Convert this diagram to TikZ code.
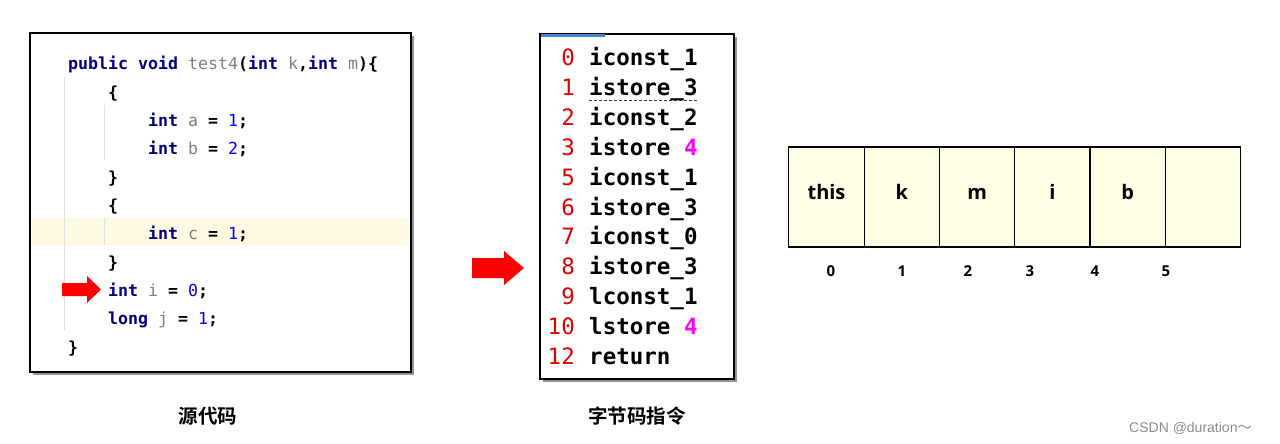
\documentclass[tikz,border=0pt]{standalone}
\usepackage{fontspec}
\setmainfont{Open Sans}
\newfontfamily\codefont{DejaVu Sans Mono}
\newfontfamily\cjk{Noto Sans CJK SC}[BoldFont={Noto Sans CJK SC Bold}]
\newfontfamily\wmfont{Liberation Sans}
\usetikzlibrary{shadows}
\definecolor{kwblue}{HTML}{000080}
\definecolor{vargray}{HTML}{808080}
\definecolor{numblue}{HTML}{0000FF}
\definecolor{offred}{HTML}{E00000}
\definecolor{regpink}{HTML}{FF00FF}
\definecolor{lineyellow}{HTML}{FDF9E3}
\definecolor{cellyellow}{HTML}{FFFFE6}
\definecolor{barblue}{HTML}{4A86C8}
\newcommand{\kw}[1]{\textcolor{kwblue}{#1}}
\newcommand{\vr}[1]{\textcolor{vargray}{\mdseries #1}}
\newcommand{\nm}[1]{\textcolor{numblue}{\mdseries #1}}
\newcommand{\rg}[1]{\textcolor{regpink}{#1}}
\tikzset{
	x=1pt, y=-1pt,
	box/.style={draw=black, line width=2pt, fill=white,
		drop shadow={shadow xshift=3pt, shadow yshift=-3pt, fill=black!70, opacity=0.6}},
	guide/.style={draw=black!12, line width=1pt},
	code/.style={anchor=base west, inner sep=0pt, font=\codefont\bfseries\fontsize{16.6}{18}\selectfont},
	offs/.style={anchor=base east, inner sep=0pt, text=offred, font=\codefont\fontsize{22.5}{24}\selectfont},
	instr/.style={anchor=base west, inner sep=0pt, font=\codefont\bfseries\fontsize{22.5}{24}\selectfont},
	cell/.style={draw=black, line width=1.2pt, fill=cellyellow, minimum width=75.3pt,
		minimum height=100pt, inner sep=0pt, text height=16pt, text depth=12pt, font=\bfseries\fontsize{20}{22}\selectfont},
	idx/.style={inner sep=0pt, font=\bfseries\fontsize{15}{17}\selectfont},
	caption/.style={inner sep=0pt, font=\cjk\bfseries\fontsize{19.5}{21}\selectfont},
	arrowred/.style={fill=red},
}
\begin{document}
\begin{tikzpicture}
\useasboundingbox (0,0) rectangle (1280,444);

% source code
\draw[box] (30,33) rectangle (411,372);
\fill[lineyellow] (32,218) rectangle (409,245);
\draw[guide] (64,77) -- (64,330);
\draw[guide] (104,105) -- (104,160);
\draw[guide] (104,218) -- (104,245);

\node[code] (l0)  at (68,70)    {\kw{public void} \vr{test4}(\kw{int} \vr{k},\kw{int} \vr{m})\{};
\node[code] (l1)  at (108,98.3) {\{};
\node[code] (l2)  at (148,126.6) {\kw{int} \vr{a} = \nm{1};};
\node[code] (l3)  at (148,154.9) {\kw{int} \vr{b} = \nm{2};};
\node[code] (l4)  at (108,183.2) {\}};
\node[code] (l5)  at (108,211.5) {\{};
\node[code] (l6)  at (148,239.8) {\kw{int} \vr{c} = \nm{1};};
\node[code] (l7)  at (108,268.1) {\}};
\node[code] (l8)  at (108,296.4) {\kw{int} \vr{i} = \nm{0};};
\node[code] (l9)  at (108,324.7) {\kw{long} \vr{j} = \nm{1};};
\node[code] (l10) at (68,353)   {\}};

\fill[arrowred] (62,283) -- ++(25,0) -- ++(0,-7) -- ++(14,13.5) -- ++(-14,13.5) -- ++(0,-7) -- ++(-25,0) -- cycle;

% bytecode
\draw[box] (540,34) rectangle (734,379);
\draw[barblue, line width=3pt] (541,36) -- (605,36);
\foreach \n/\op [count=\r from 0] in {0/{iconst\_1}, 1/{istore\_3}, 2/{iconst\_2}, 3/{istore \rg{4}},
	5/{iconst\_1}, 6/{istore\_3}, 7/{iconst\_0}, 8/{istore\_3}, 9/{lconst\_1}, 10/{lstore \rg{4}}, 12/{return}}
{
	\node[offs]  (n\r)  at (575,65.5+29.9*\r) {\n};
	\node[instr] (op\r) at (589,65.5+29.9*\r) {\op};
}
\draw[black!80, densely dashed, line width=0.8pt] (589,100) -- (697,100);

\fill[arrowred] (472,258) -- ++(32,0) -- ++(0,-7) -- ++(20,17) -- ++(-20,17) -- ++(0,-7) -- ++(-32,0) -- cycle;

% local variable table
\foreach \t [count=\i from 0] in {this,k,m,i,b,{}}
	\node[cell] (c\i) at (826.5+75.3*\i,197) {\t};
\foreach \x [count=\i from 0] in {831,902,968,1030,1095,1166}
	\node[idx] (x\i) at (\x,271) {\i};

\node[caption] (src) at (208,416) {源代码};
\node[caption] (bc)  at (637,416) {字节码指令};
\node[anchor=west, inner sep=0pt, text=black!45, font=\wmfont\fontsize{14}{16}\selectfont] (wm) at (1129,428) {CSDN @duration{\cjk ～}};
\end{tikzpicture}
\end{document}
